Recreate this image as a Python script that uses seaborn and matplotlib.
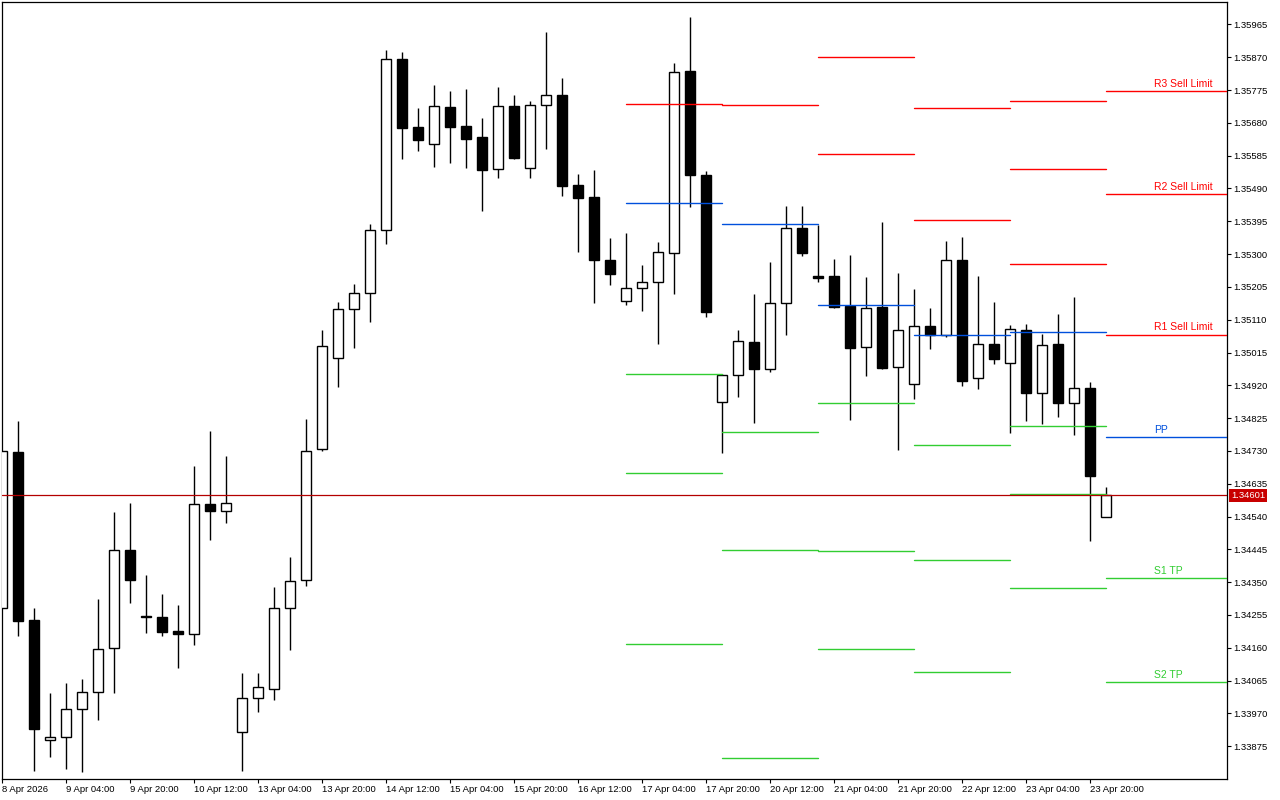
import numpy as np
import pandas as pd
import seaborn as sns
import matplotlib
matplotlib.use("Agg")
import matplotlib.pyplot as plt

# H4 candles, 8 Apr 2026 12:00 -> 24 Apr 2026 00:00 (weekends skipped)
opens = [
    1.34274, 1.34727, 1.34240, 1.33893, 1.33902, 1.33984, 1.34031, 1.34158, 1.34442, 1.34252,
    1.34248, 1.34208, 1.34200, 1.34576, 1.34555, 1.33915, 1.34016, 1.34042, 1.34274, 1.34355,
    1.34737, 1.34998, 1.35140, 1.35186, 1.35371, 1.35864, 1.35667, 1.35618, 1.35726, 1.35671,
    1.35639, 1.35545, 1.35729, 1.35548, 1.35731, 1.35760, 1.35500, 1.35465, 1.35283, 1.35163,
    1.35201, 1.35218, 1.35302, 1.35830, 1.35529, 1.34873, 1.34949, 1.35045, 1.34968, 1.35159,
    1.35377, 1.35236, 1.35236, 1.35149, 1.35031, 1.35146, 1.34972, 1.34923, 1.35091, 1.35065,
    1.35282, 1.34940, 1.35039, 1.34986, 1.35080, 1.34898, 1.35040, 1.34868, 1.34911, 1.34539,
]
highs = [
    1.34729, 1.34816, 1.34274, 1.34029, 1.34058, 1.34069, 1.34301, 1.34554, 1.34579, 1.34370,
    1.34315, 1.34283, 1.34686, 1.34787, 1.34715, 1.34087, 1.34087, 1.34335, 1.34422, 1.34822,
    1.35080, 1.35161, 1.35213, 1.35387, 1.35891, 1.35884, 1.35723, 1.35789, 1.35772, 1.35778,
    1.35694, 1.35784, 1.35760, 1.35743, 1.35943, 1.35810, 1.35532, 1.35543, 1.35346, 1.35361,
    1.35268, 1.35335, 1.35853, 1.35986, 1.35540, 1.34954, 1.35080, 1.35184, 1.35277, 1.35439,
    1.35439, 1.35385, 1.35287, 1.35297, 1.35233, 1.35393, 1.35244, 1.35199, 1.35144, 1.35338,
    1.35349, 1.35238, 1.35161, 1.35095, 1.35097, 1.35069, 1.35126, 1.35176, 1.34929, 1.34626,
]
lows = [
    1.34274, 1.34194, 1.33804, 1.33844, 1.33808, 1.33801, 1.33951, 1.34029, 1.34290, 1.34203,
    1.34195, 1.34102, 1.34168, 1.34472, 1.34522, 1.33804, 1.33974, 1.34009, 1.34154, 1.34339,
    1.34730, 1.34916, 1.35029, 1.35104, 1.35330, 1.35576, 1.35599, 1.35553, 1.35564, 1.35550,
    1.35425, 1.35521, 1.35576, 1.35521, 1.35605, 1.35469, 1.35307, 1.35159, 1.35211, 1.35153,
    1.35136, 1.35040, 1.35185, 1.35437, 1.35118, 1.34723, 1.34887, 1.34812, 1.34959, 1.35066,
    1.35295, 1.35219, 1.35143, 1.34821, 1.34948, 1.34966, 1.34734, 1.34879, 1.35026, 1.35059,
    1.34919, 1.34910, 1.34982, 1.34782, 1.34817, 1.34808, 1.34829, 1.34777, 1.34470, 1.34539,
]
closes = [
    1.34729, 1.34238, 1.33925, 1.33903, 1.33984, 1.34031, 1.34156, 1.34442, 1.34357, 1.34248,
    1.34206, 1.34201, 1.34575, 1.34557, 1.34578, 1.34016, 1.34045, 1.34274, 1.34352, 1.34731,
    1.35033, 1.35140, 1.35186, 1.35371, 1.35864, 1.35666, 1.35631, 1.35728, 1.35669, 1.35634,
    1.35544, 1.35728, 1.35579, 1.35731, 1.35760, 1.35498, 1.35463, 1.35283, 1.35243, 1.35201,
    1.35218, 1.35305, 1.35827, 1.35530, 1.35133, 1.34950, 1.35047, 1.34968, 1.35158, 1.35377,
    1.35304, 1.35232, 1.35146, 1.35029, 1.35143, 1.34971, 1.35079, 1.35091, 1.35065, 1.35282,
    1.34933, 1.35039, 1.34997, 1.35082, 1.34898, 1.35038, 1.34869, 1.34911, 1.34658, 1.34601,
]

# daily classic pivots (NaN = off screen)
pivot_days = ["2026-04-17", "2026-04-20", "2026-04-21", "2026-04-22", "2026-04-23", "2026-04-24"]
nan = np.nan
r3 = [nan, nan, nan, nan, 1.35742, 1.35771]
r2 = [nan, nan, 1.35870, 1.35722, 1.35545, 1.35473]
r1 = [1.35736, 1.35733, 1.35589, 1.35400, 1.35270, 1.35067]
pp = [1.35447, 1.35386, 1.35154, 1.35067, 1.35075, 1.34769]
s1 = [1.34954, 1.34786, 1.34870, 1.34747, 1.34802, 1.34361]
s2 = [1.34666, 1.34442, 1.34439, 1.34413, 1.34604, 1.34062]
s3 = [1.34172, 1.33842, 1.34156, 1.34091, 1.34332, nan]

level_names = ["R3 Sell Limit", "R2 Sell Limit", "R1 Sell Limit", "PP", "S1 TP", "S2 TP", "S3"]

time_labels = ["8 Apr 2026", "9 Apr 04:00", "9 Apr 20:00", "10 Apr 12:00", "13 Apr 04:00",
               "13 Apr 20:00", "14 Apr 12:00", "15 Apr 04:00", "15 Apr 20:00", "16 Apr 12:00",
               "17 Apr 04:00", "17 Apr 20:00", "20 Apr 12:00", "21 Apr 04:00", "21 Apr 20:00",
               "22 Apr 12:00", "23 Apr 04:00", "23 Apr 20:00"]

price_ticks = [1.35965, 1.35870, 1.35775, 1.35680, 1.35585, 1.35490, 1.35395, 1.35300,
               1.35205, 1.35110, 1.35015, 1.34920, 1.34825, 1.34730, 1.34635, 1.34540,
               1.34445, 1.34350, 1.34255, 1.34160, 1.34065, 1.33970, 1.33875]

# bar times
times = pd.date_range("2026-04-08 12:00", "2026-04-24 00:00", freq="4h")
times = times[times.dayofweek < 5]
x = np.arange(len(times))

RED, BLUE, GREEN = "#FF0000", "#0050DC", "#32CD32"
BID = "#B40000"

sns.set_theme(style="ticks")
plt.rcParams["font.family"] = ["Liberation Sans", "DejaVu Sans"]

fig = plt.figure(figsize=(12.8, 8), dpi=100)
ax = fig.add_axes([2 / 1280, 21 / 800, 1225 / 1280, 777 / 800])
ax.set_facecolor("white")

x_right = 76.56

# pivot segments in long form for seaborn
day_start = [int(np.argmax(times.normalize() == pd.Timestamp(d))) for d in pivot_days]
rows = []
levels = [r3, r2, r1, pp, s1, s2, s3]
kinds = ["R", "R", "R", "P", "S", "S", "S"]
for i, d in enumerate(pivot_days):
    x0 = day_start[i]
    x1 = day_start[i + 1] if i + 1 < len(day_start) else x_right + 2
    for lvl, name, kind in zip(levels, level_names, kinds):
        if np.isnan(lvl[i]):
            continue
        seg = f"{d}-{name}"
        rows.append({"x": x0, "price": lvl[i], "kind": kind, "seg": seg})
        rows.append({"x": x1, "price": lvl[i], "kind": kind, "seg": seg})
piv = pd.DataFrame(rows)

# candles
o = np.array(opens); c = np.array(closes)
up = c >= o
ax.vlines(x, lows, highs, color="black", lw=1.0, zorder=2)
ax.bar(x, c - o, bottom=o, width=0.6, color=np.where(up, "white", "black"),
       edgecolor="black", linewidth=1.0, zorder=3)

sns.lineplot(data=piv, x="x", y="price", hue="kind", units="seg", estimator=None,
             palette={"R": RED, "P": BLUE, "S": GREEN}, legend=False, lw=1.0,
             ax=ax, zorder=4)

# bid line
ax.axhline(closes[-1], color=BID, lw=0.9, zorder=5)

# labels on the current day
label_colors = [RED, RED, RED, BLUE, GREEN, GREEN, GREEN]
for lvl, name, col in zip(levels, level_names, label_colors):
    if name == "S3" or np.isnan(lvl[-1]):
        continue
    ax.annotate(name, xy=(72.0, lvl[-1]), xytext=(0, 1.5), textcoords="offset points",
                ha="left", va="bottom", fontsize=7.5, color=col, zorder=6)

ax.set_xlim(0, x_right)
ax.set_ylim(1.33780, 1.36030)

ax.set_xticks(x[::4])
ax.set_xticklabels(time_labels)
for t in ax.get_xticklabels():
    t.set_horizontalalignment("left")
ax.set_yticks(price_ticks)
ax.set_yticklabels([f"{p:.5f}" for p in price_ticks])
ax.yaxis.tick_right()
ax.tick_params(axis="y", direction="out", length=3, width=0.8, pad=1.5,
               labelsize=6.8, colors="black")
ax.tick_params(axis="x", direction="out", length=3, width=0.8, pad=1.5,
               labelsize=6.8, colors="black")
ax.set_xlabel("")
ax.set_ylabel("")
for s in ax.spines.values():
    s.set_visible(True)
    s.set_color("black")
    s.set_linewidth(0.9)

ax.annotate(f"{closes[-1]:.5f}", xy=(1, closes[-1]), xycoords=("axes fraction", "data"),
            xytext=(3, 0), textcoords="offset points", ha="left", va="center",
            fontsize=6.8, color="white", annotation_clip=False, zorder=10,
            bbox=dict(boxstyle="square,pad=0.2", fc="#C80000", ec="none"))

fig.savefig("out.png", dpi=100, facecolor="white")
